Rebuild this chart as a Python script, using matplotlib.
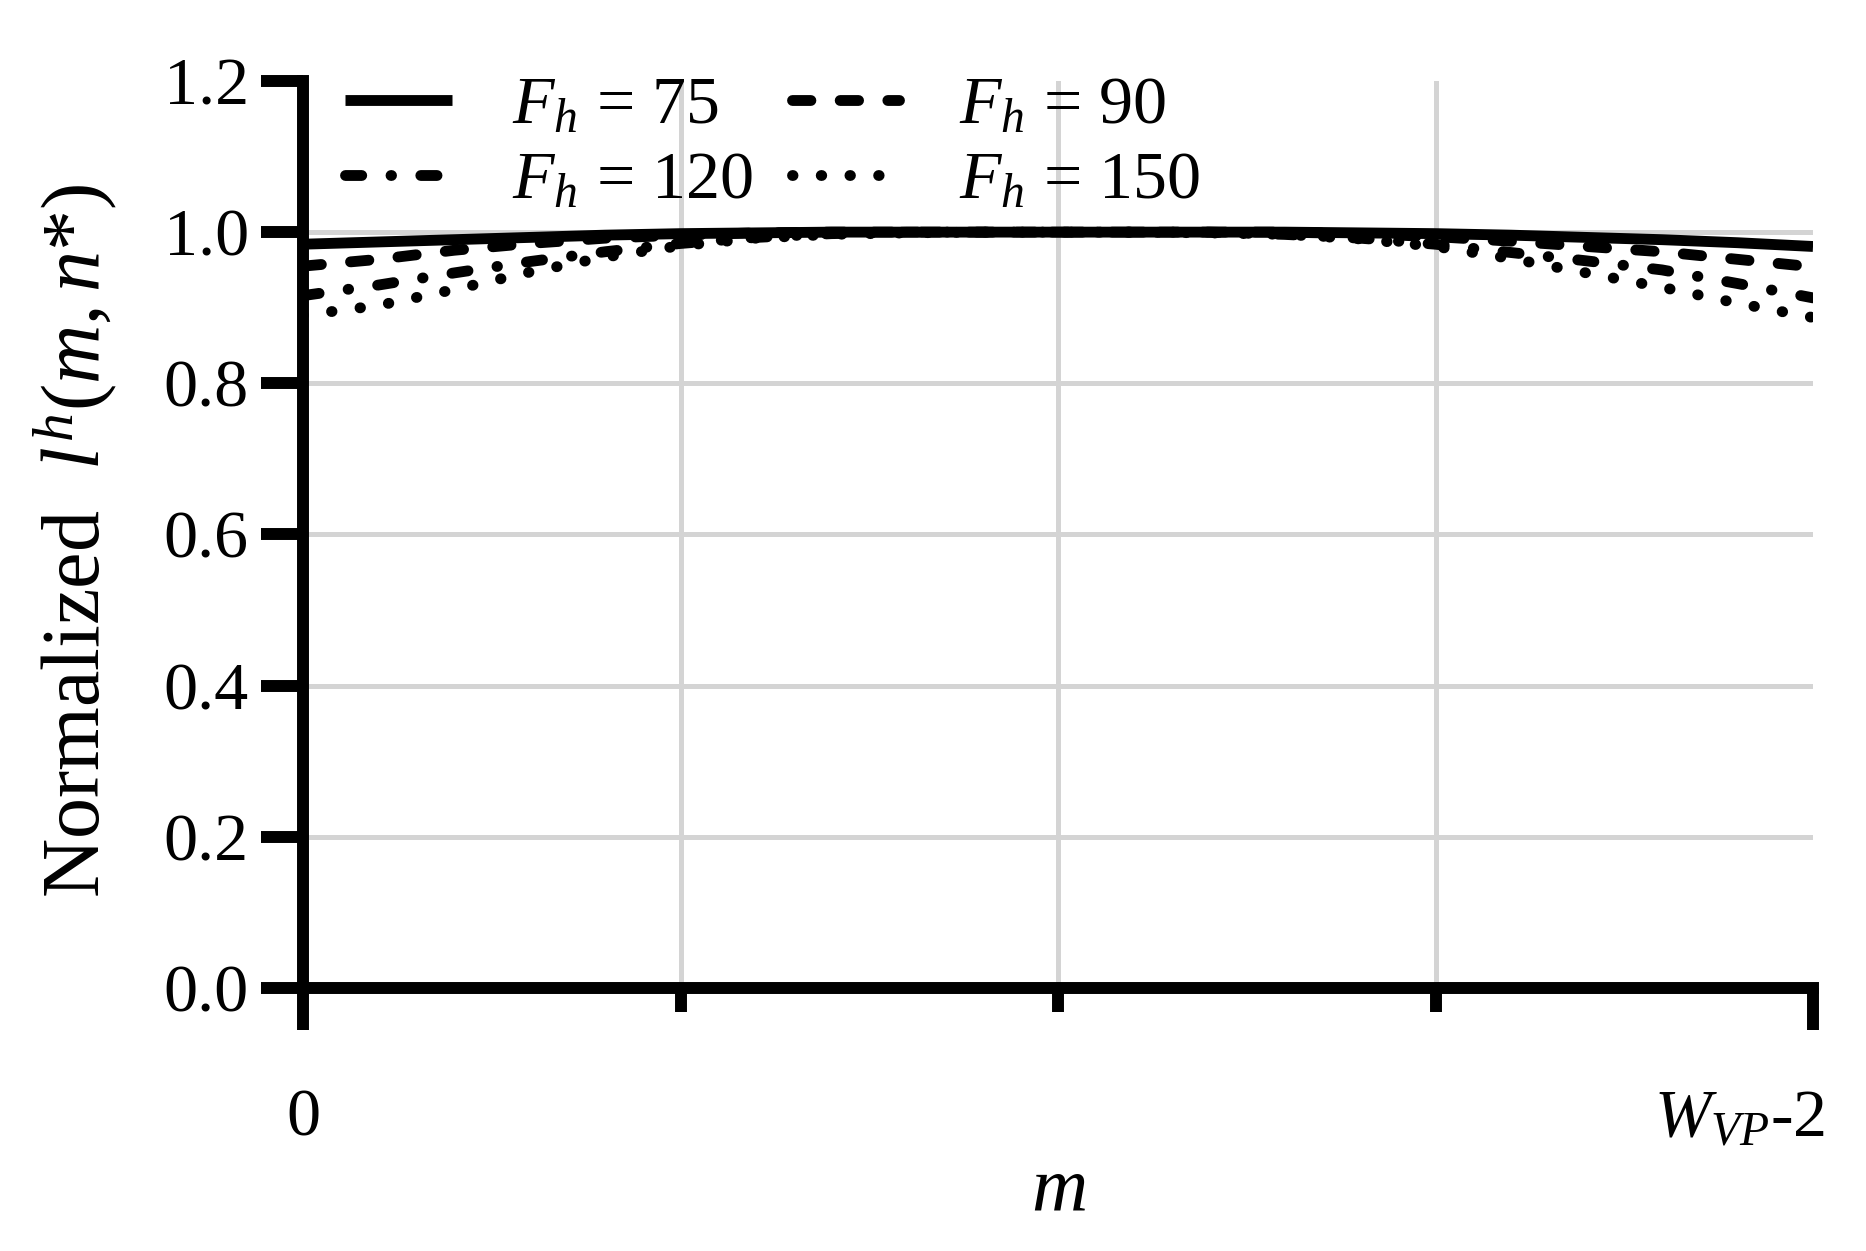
import numpy as np
import matplotlib
matplotlib.use('Agg')
import matplotlib.pyplot as plt
from matplotlib.ticker import FixedLocator, NullFormatter

plt.rcParams['font.family'] = ['Liberation Serif', 'DejaVu Serif']
plt.rcParams['mathtext.fontset'] = 'custom'
plt.rcParams['mathtext.rm'] = 'Liberation Serif'
plt.rcParams['mathtext.it'] = 'Liberation Serif:italic'
plt.rcParams['mathtext.bf'] = 'Liberation Serif:bold'

# normalized position along m (0 .. W_VP-2)
m = [0.0, 0.05, 0.1, 0.15, 0.2, 0.25, 0.3, 0.35, 0.4, 0.45, 0.5,
     0.55, 0.6, 0.65, 0.7, 0.75, 0.8, 0.85, 0.9, 0.95, 1.0]

fh75 = [0.984, 0.987, 0.990, 0.993, 0.996, 0.998, 0.999, 1.0, 1.0, 1.0, 1.0,
        1.0, 1.0, 1.0, 0.999, 0.998, 0.996, 0.993, 0.990, 0.986, 0.981]
fh90 = [0.955, 0.964, 0.976, 0.985, 0.992, 0.996, 0.999, 1.0, 1.0, 1.0, 1.0,
        1.0, 1.0, 1.0, 0.998, 0.994, 0.988, 0.981, 0.974, 0.964, 0.954]
fh120 = [0.916, 0.930, 0.946, 0.961, 0.974, 0.985, 0.993, 0.998, 1.0, 1.0, 1.0,
         1.0, 1.0, 0.997, 0.992, 0.984, 0.973, 0.962, 0.950, 0.932, 0.913]
fh150 = [0.890, 0.903, 0.924, 0.947, 0.967, 0.982, 0.992, 0.997, 0.999, 1.0, 1.0,
         1.0, 0.999, 0.997, 0.991, 0.981, 0.965, 0.946, 0.927, 0.906, 0.887]

labels = [r'$F_h$ = 75', r'$F_h$ = 90', r'$F_h$ = 120', r'$F_h$ = 150']
styles = ['-', (0, (1.7, 2.7)), (0, (1.5, 2.7, 0.05, 2.7)), (0, (0.05, 2.6))]
xtick_labels = ['0', r'$W_{VP}$-2']

fig = plt.figure(figsize=(18.66, 12.51), dpi=100)
ax = fig.add_axes([0.1624, 0.2102, 0.8092, 0.7251])

lw = 7.8
lines = []
for y, lab, ls in zip([fh75, fh90, fh120, fh150], labels, styles):
    ln, = ax.plot(m, y, color='black', lw=lw, linestyle=ls, label=lab,
                  dash_capstyle='round', solid_capstyle='butt')
    lines.append(ln)

ax.set_xlim(0, 1)
ax.set_ylim(0, 1.2)

# grid
for yy in [0.2, 0.4, 0.6, 0.8, 1.0]:
    ax.axhline(yy, color='#d4d4d4', lw=3.6, zorder=0)
for xx in [0.25, 0.5, 0.75]:
    ax.axvline(xx, color='#d4d4d4', lw=3.6, zorder=0)

ax.spines['top'].set_visible(False)
ax.spines['right'].set_visible(False)
for s in ['left', 'bottom']:
    ax.spines[s].set_linewidth(8.6)

ax.set_yticks([0.0, 0.2, 0.4, 0.6, 0.8, 1.0, 1.2])
ax.set_yticklabels(['0.0', '0.2', '0.4', '0.6', '0.8', '1.0', '1.2'])
ax.set_xticks([0, 1])
ax.set_xticklabels([xtick_labels[0], ''])
ax.xaxis.set_minor_locator(FixedLocator([0.25, 0.5, 0.75]))
ax.xaxis.set_minor_formatter(NullFormatter())

ax.tick_params(axis='both', which='major', direction='out', length=30,
               width=8.6, labelsize=49, color='black')
ax.tick_params(axis='x', which='major', pad=42)
ax.tick_params(axis='y', which='major', pad=9)
ax.tick_params(axis='x', which='minor', direction='out', length=17, width=8.6)

# right-end label, right aligned so it stays inside the figure
ax.annotate(xtick_labels[1], xy=(1, 0), xycoords='axes fraction',
            xytext=(9, -72), textcoords='offset points',
            ha='right', va='top', fontsize=49)

ax.set_xlabel(r'$m$', fontsize=56)
ax.xaxis.set_label_coords(0.5, -0.185)
ax.set_ylabel(r'Normalized  $l^h(m,n$*$)$', fontsize=59)
ax.yaxis.set_label_coords(-0.122, 0.493)

# row-major legend order: 75, 90 / 120, 150
order = [0, 2, 1, 3]
ax.legend([lines[i] for i in order], [labels[i] for i in order],
          loc='upper left', bbox_to_anchor=(0.028, 1.005), ncol=2, frameon=False,
          fontsize=49, handlelength=1.57, handletextpad=0.88, columnspacing=0.57,
          labelspacing=0.19, borderpad=0, borderaxespad=0)

fig.savefig('out.png', dpi=100)
